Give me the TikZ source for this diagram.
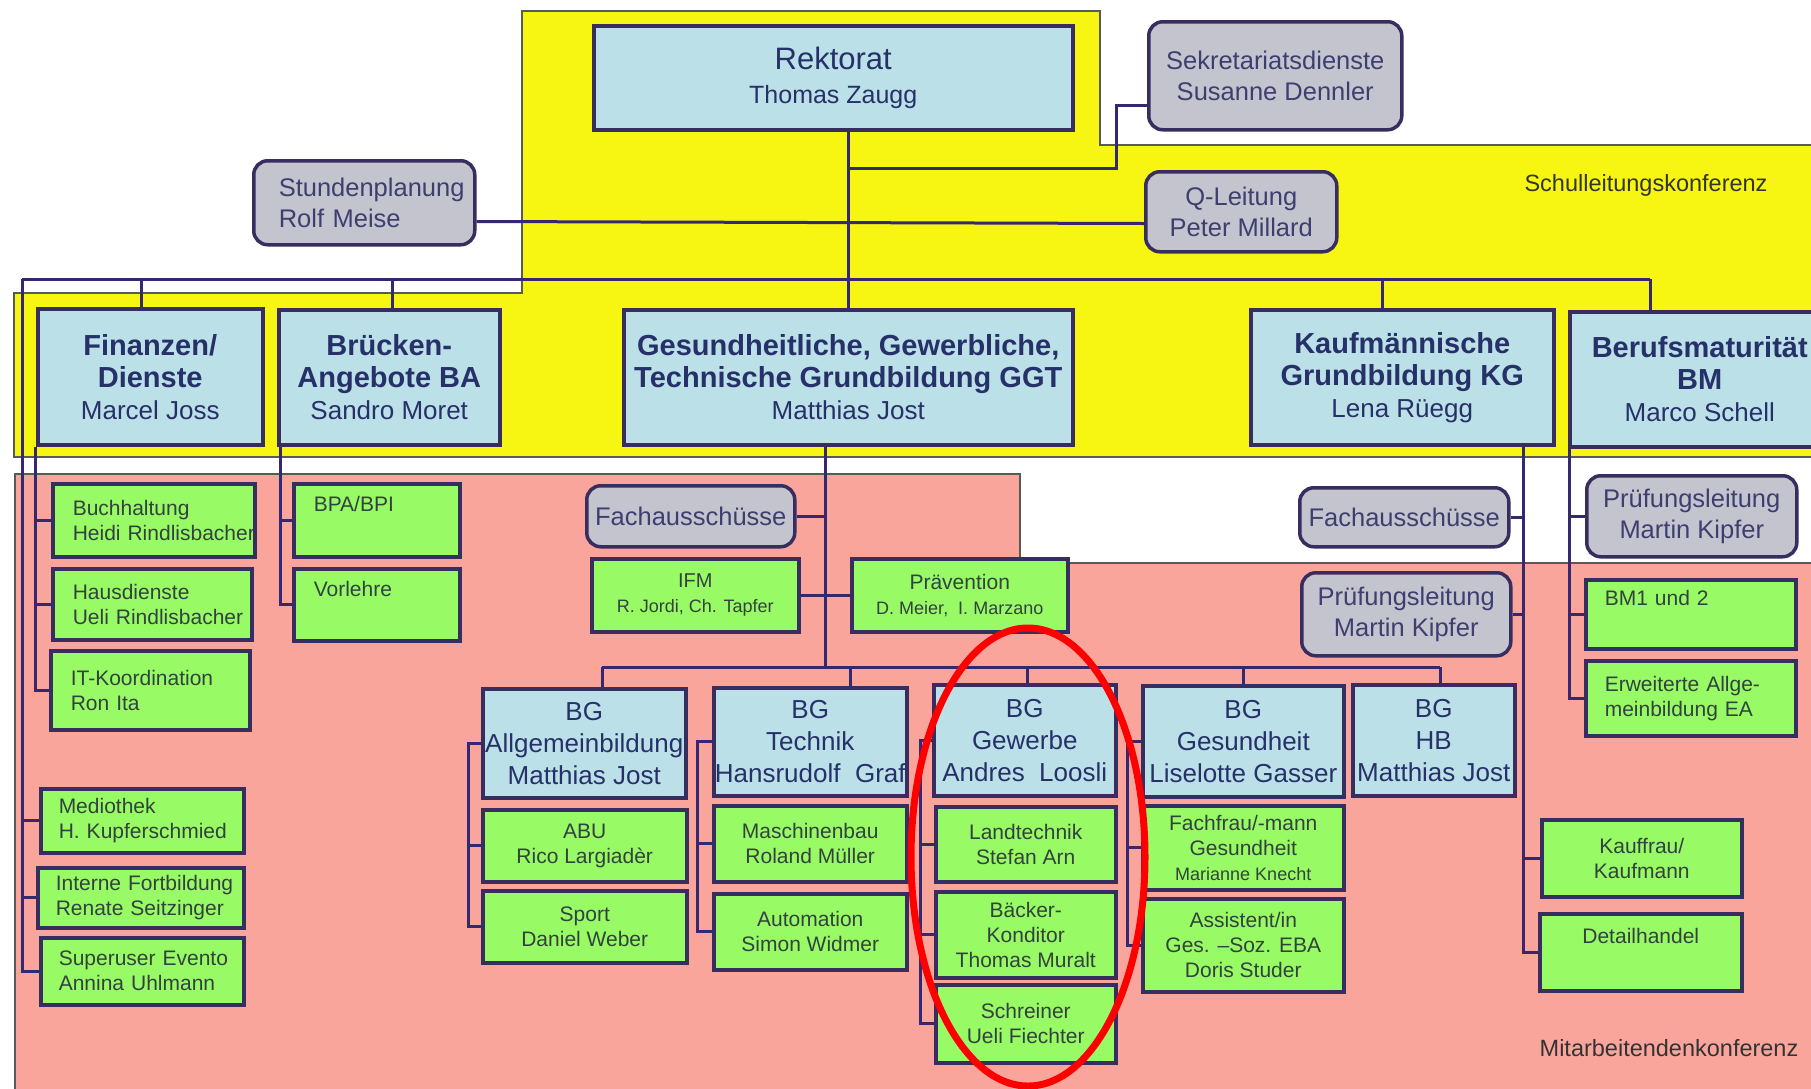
\documentclass[tikz,border=0pt]{standalone}
\usepackage{fontspec}
\setmainfont{Liberation Sans}
\usetikzlibrary{calc}
\hyphenpenalty=10000
\exhyphenpenalty=10000
\definecolor{slkc}{RGB}{246,246,18}
\definecolor{makc}{RGB}{250,165,155}
\definecolor{unitc}{RGB}{188,224,231}
\definecolor{staffc}{RGB}{196,196,206}
\definecolor{taskc}{RGB}{152,250,100}
\definecolor{edgec}{RGB}{55,45,95}
\definecolor{linec}{RGB}{52,40,112}
\definecolor{unitt}{RGB}{38,48,105}
\definecolor{stafft}{RGB}{62,62,112}
\definecolor{taskt}{RGB}{50,66,62}
\newcommand\headtxt[1]{{\fontsize{29}{33}\selectfont\bfseries #1}}
\newcommand\smalltxt[1]{{\fontsize{18}{25}\selectfont #1}}
\tikzset{
	box/.style={draw=edgec, line width=3.5pt, inner sep=0pt, anchor=north west, align=center},
	wh/.style 2 args={minimum width=#1pt, minimum height=#2pt},
	unit/.style={box, fill=unitc, text=unitt, font=\fontsize{26}{32}\selectfont},
	staff/.style={box, fill=staffc, text=stafft, rounded corners=14pt, font=\fontsize{25.5}{31}\selectfont},
	task/.style={box, fill=taskc, text=taskt, font=\fontsize{21}{25}\selectfont},
	lefttext/.style={align=left, text width=#1},
	conn/.style={draw=linec, line width=3pt},
	region/.style={draw=black!65, line width=1.2pt},
	conf/.style={text=black!80, font=\fontsize{23.5}{28}\selectfont}
}
\begin{document}
\begin{tikzpicture}[x=1pt, y=-1pt]
	\useasboundingbox (0,0) rectangle (1811,1088);
	\clip (0,0) rectangle (1811,1088);
	\fill[white] (0,0) rectangle (1811,1088);
	\draw[region, fill=slkc] (522,11) -- (1100,11) -- (1100,145) -- (1830,145) -- (1830,457) -- (14,457) -- (14,293) -- (522,293) -- cycle;
	\draw[region, fill=makc] (15,474) -- (1020,474) -- (1020,563) -- (1830,563) -- (1830,1100) -- (15,1100) -- cycle;

	\node[unit, wh={479}{104}] (rek) at (592,24) {{\fontsize{31}{34}\selectfont Rektorat}\\[2pt]{\fontsize{25}{32}\selectfont Thomas Zaugg}};
	\node[staff, wh={253}{108}] (sek) at (1147,20) {Sekretariatsdienste\\Susanne Dennler};
	\node[staff, wh={221}{84}, lefttext=171pt] (stp) at (252,159) {Stundenplanung\\Rolf~Meise};
	\node[staff, wh={191}{80}] (ql) at (1144,170) {Q-Leitung\\Peter Millard};

	\node[unit, wh={225}{136}] (fin) at (36,307) {\headtxt{Finanzen/}\\\headtxt{Dienste}\\Marcel Joss};
	\node[unit, wh={221}{135}] (bru) at (277,308) {\headtxt{Brücken-}\\\headtxt{Angebote BA}\\Sandro Moret};
	\node[unit, wh={449}{135}] (ggt) at (622,308) {\headtxt{Gesundheitliche, Gewerbliche,}\\\headtxt{Technische Grundbildung GGT}\\Matthias Jost};
	\node[unit, wh={303}{135}] (kg) at (1249,308) {\headtxt{Kaufmännische}\\\headtxt{Grundbildung KG}\\Lena Rüegg};
	\node[unit, wh={260}{135}] (bm) at (1568,310) {\headtxt{Berufsmaturität}\\\headtxt{BM}\\Marco Schell};

	\node[task, wh={202}{73}, lefttext=162pt] (buch) at (51,482) {Buchhaltung\\Heidi~Rindlisbacher};
	\node[task, wh={199}{71}, lefttext=159pt] (haus) at (51,567) {Hausdienste\\Ueli~Rindlisbacher};
	\node[task, wh={199}{79}, lefttext=159pt] (itk) at (49,649) {IT-Koordination\\Ron~Ita};
	\node[task, wh={203}{64}, lefttext=167pt] (med) at (39,787) {Mediothek\\H.~Kupferschmied};
	\node[task, wh={206}{60}, lefttext=170pt] (ifb) at (36,866) {Interne~Fortbildung\\Renate~Seitzinger};
	\node[task, wh={203}{67}, lefttext=167pt] (sue) at (39,936) {Superuser~Evento\\Annina~Uhlmann};
	\node[task, wh={166}{73}, lefttext=126pt] (bpa) at (292,482) {BPA/BPI\\\strut};
	\node[task, wh={166}{72}, lefttext=126pt] (vor) at (292,567) {Vorlehre\\\strut};

	\node[staff, wh={208}{61}] (fa1) at (585,484) {Fachausschüsse};
	\node[task, wh={207}{73}] (ifm) at (590,557) {{\fontsize{20}{25}\selectfont IFM}\\\smalltxt{R. Jordi, Ch. Tapfer}};
	\node[task, wh={216}{73}] (prae) at (850,557) {Prävention\\\smalltxt{D. Meier,\ \ I. Marzano}};

	\node[unit, wh={203}{109}] (bga) at (481,687) {BG\\Allgemeinbildung\\Matthias Jost};
	\node[unit, wh={193}{108}] (bgt) at (712,686) {BG\\Technik\\Hansrudolf\ \ Graf};
	\node[unit, wh={182}{111}] (bgw) at (932,683) {BG\\Gewerbe\\Andres\ \ Loosli};
	\node[unit, wh={201}{111}] (bgg) at (1141,684) {BG\\Gesundheit\\Liselotte Gasser};
	\node[unit, wh={162}{111}] (bgh) at (1351,683) {BG\\HB\\Matthias Jost};

	\node[task, wh={204}{72}] (abu) at (481,808) {ABU\\Rico Largiadèr};
	\node[task, wh={204}{72}] (spo) at (481,889) {Sport\\Daniel Weber};
	\node[task, wh={193}{76}] (mas) at (712,804) {Maschinenbau\\Roland Müller};
	\node[task, wh={193}{76}] (aut) at (712,892) {Automation\\Simon Widmer};
	\node[task, wh={180}{75}] (lan) at (934,805) {Landtechnik\\Stefan Arn};
	\node[task, wh={180}{86}] (bae) at (934,890) {Bäcker-\\Konditor\\Thomas Muralt};
	\node[task, wh={180}{78}] (sch) at (934,983) {Schreiner\\Ueli Fiechter};
	\node[task, wh={201}{84}] (fach) at (1141,804) {Fachfrau/-mann\\Gesundheit\\\smalltxt{Marianne Knecht}};
	\node[task, wh={201}{93}] (ass) at (1141,897) {Assistent/in\\Ges. –Soz. EBA\\Doris Studer};

	\node[staff, wh={209}{59}] (fa2) at (1298,486) {Fachausschüsse};
	\node[staff, wh={209}{83}] (pl1) at (1300,571) {Prüfungsleitung\\Martin Kipfer};
	\node[task, wh={200}{77}] (kauf) at (1540,818) {Kauffrau/\\Kaufmann};
	\node[task, wh={202}{77}] (det) at (1538,912) {Detailhandel\\\strut};

	\node[staff, wh={210}{81}] (pl2) at (1585,474) {Prüfungsleitung\\Martin Kipfer};
	\node[task, wh={210}{69}, lefttext=172pt] (bm1) at (1584,578) {BM1~und~2\\\strut};
	\node[task, wh={210}{75}, lefttext=172pt] (ea) at (1584,659) {Erweiterte~Allge-\\meinbildung~EA};

	\node[conf] (slk) at (1646,185) {Schulleitungskonferenz};
	\node[conf] (mak) at (1669,1048) {Mitarbeitendenkonferenz};

	\draw[conn] (848,0 |- rek.south) -- (848,0 |- ggt.north);
	\coordinate (sj) at (1116,168);
	\draw[conn] ($(sek.south west)+(0,-26)$) -| (sj) -- (848,0 |- sj);
	\draw[conn] ($(stp.south east)+(0,-25)$) -- ($(ql.south west)+(0,-30)$);
	\coordinate (busl) at (22,279);
	\coordinate (busr) at (1650,279);
	\draw[conn] (busl) -- (busr);
	\foreach \n/\x in {fin/141,bru/392,kg/1382,bm/1650}
		\draw[conn] (\x,0 |- busl) -- (\x,0 |- \n.north);
	\foreach \n in {med,ifb,sue}
		\draw[conn] (\n.west) -| (busl);
	\foreach \n in {buch,haus,itk}
		\draw[conn] (\n.west) -| (35,0 |- fin.south);
	\foreach \n in {bpa,vor}
		\draw[conn] (\n.west) -| (280,0 |- bru.south);

	\coordinate (gj) at (825,667);
	\draw[conn] (825,0 |- ggt.south) -- (gj);
	\draw[conn] (fa1.east) -- (gj |- fa1.east);
	\draw[conn] (ifm.east) -- (prae.west);
	\draw[conn] (602,0 |- gj) -- (1440,0 |- gj);
	\foreach \n/\x in {bga/602,bgt/850,bgw/1027,bgg/1243,bgh/1440}
		\draw[conn] (\x,0 |- gj) -- (\x,0 |- \n.north);
	\foreach \t/\x/\l in {bga/468/spo,bgt/697/aut,bgw/920/sch,bgg/1127/ass}
		\draw[conn] (\t.west) -| (\x,0 |- \l.west) -- (\l.west);
	\foreach \n/\x in {abu/468,mas/697,lan/920,bae/920,fach/1127}
		\draw[conn] (\n.west) -- (\x,0 |- \n.west);

	\draw[conn] (1523,0 |- kg.south) |- (det.west);
	\foreach \n in {fa2,pl1}
		\draw[conn] (\n.east) -- (1523,0 |- \n.east);
	\draw[conn] (kauf.west) -- (1523,0 |- kauf.west);
	\draw[conn] (1569,0 |- bm.south) |- (ea.west);
	\foreach \n in {pl2,bm1}
		\draw[conn] (\n.west) -- (1569,0 |- \n.west);

	\draw[red, line width=7pt] (1028,857) ellipse [x radius=117, y radius=229];
\end{tikzpicture}
\end{document}
